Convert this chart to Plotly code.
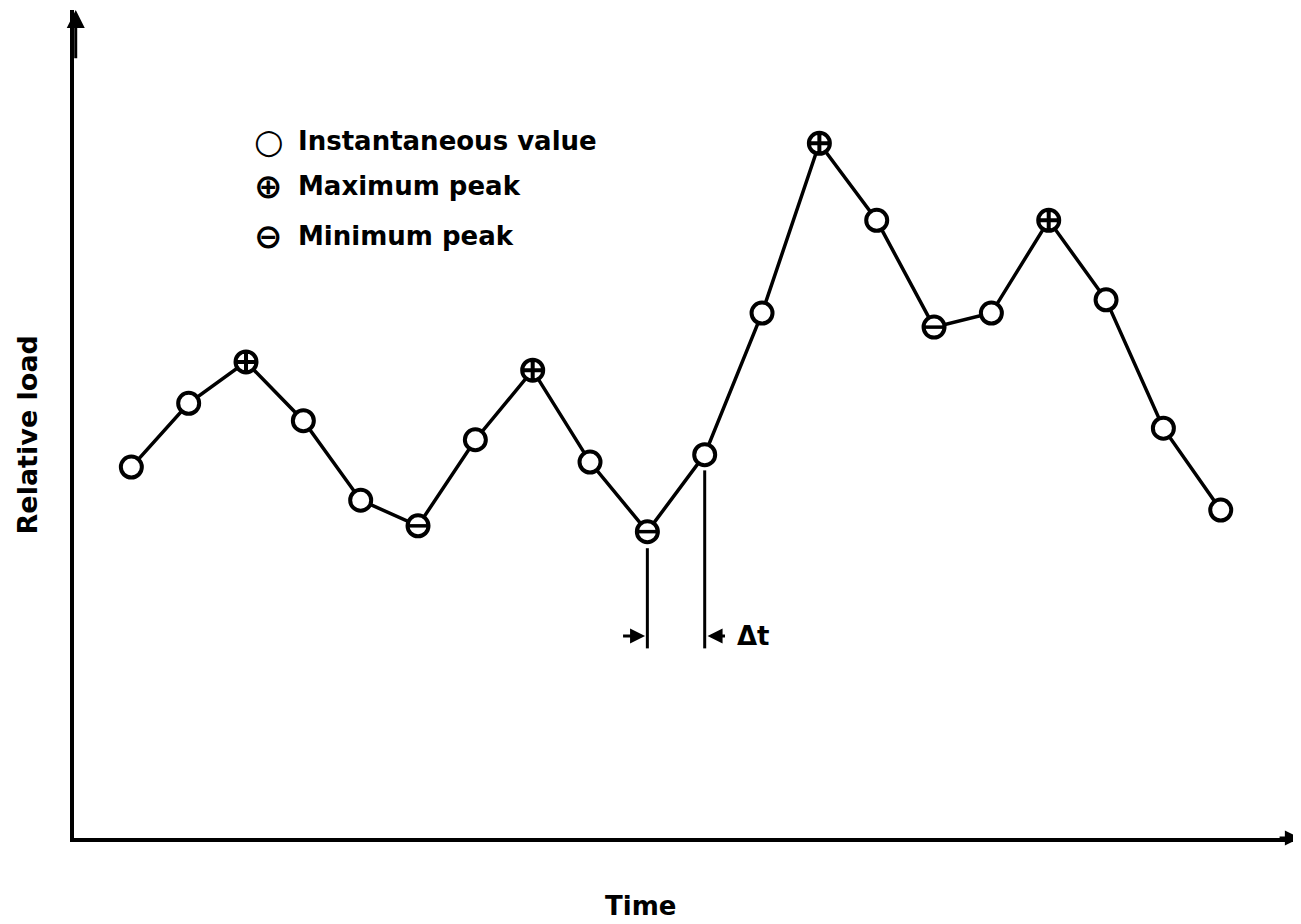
import plotly.graph_objects as go

# ---- data ----
time_idx = list(range(1, 21))
relative_load = [44.8, 52.5, 57.5, 50.4, 40.8, 37.7, 48.1, 56.5, 45.4, 37.0,
                 46.3, 63.4, 83.9, 74.6, 61.7, 63.4, 74.6, 65.0, 49.5, 39.6]
peak_type = ["i", "i", "max", "i", "i", "min", "i", "max", "i", "min",
             "i", "i", "max", "i", "min", "i", "max", "i", "i", "i"]
legend_labels = ["Instantaneous value", "Maximum peak", "Minimum peak"]
legend_glyphs = ["○", "⊕", "⊖"]

x_inst = [t for t, p in zip(time_idx, peak_type) if p == "i"]
y_inst = [v for v, p in zip(relative_load, peak_type) if p == "i"]
x_max = [t for t, p in zip(time_idx, peak_type) if p == "max"]
y_max = [v for v, p in zip(relative_load, peak_type) if p == "max"]
x_min = [t for t, p in zip(time_idx, peak_type) if p == "min"]
y_min = [v for v, p in zip(relative_load, peak_type) if p == "min"]

FONT = "DejaVu Sans"
fig = go.Figure()
fig.add_trace(go.Scatter(x=time_idx, y=relative_load, mode="lines",
                         line=dict(color="black", width=3.5), showlegend=False, hoverinfo="skip"))
mk = dict(size=21, color="white", line=dict(color="black", width=4))
fig.add_trace(go.Scatter(x=x_inst, y=y_inst, mode="markers", marker=dict(symbol="circle", **mk), showlegend=False))
fig.add_trace(go.Scatter(x=x_max, y=y_max, mode="markers", marker=dict(symbol="circle-cross", **mk), showlegend=False))
fig.add_trace(go.Scatter(x=x_min, y=y_min, mode="markers", marker=dict(symbol="circle", **mk), showlegend=False))
fig.add_trace(go.Scatter(x=x_min, y=y_min, mode="markers",
                         marker=dict(symbol="line-ew", size=17, color="black", line=dict(color="black", width=3.5)),
                         showlegend=False))

# Δt construction lines
t_a, t_b = time_idx[9], time_idx[10]
v_a, v_b = relative_load[9], relative_load[10]
base = 22.9
fig.add_shape(type="line", x0=t_a, x1=t_a, y0=v_a - 2.0, y1=base, line=dict(color="black", width=3))
fig.add_shape(type="line", x0=t_b, x1=t_b, y0=v_b - 1.9, y1=base, line=dict(color="black", width=3))
fig.add_annotation(x=t_a - 0.04, y=24.4, ax=t_a - 0.45, ay=24.4, axref="x", ayref="y",
                   showarrow=True, arrowhead=2, arrowsize=1, arrowwidth=3, arrowcolor="black", text="")
fig.add_annotation(x=t_b + 0.05, y=24.4, ax=t_b + 0.38, ay=24.4, axref="x", ayref="y",
                   showarrow=True, arrowhead=2, arrowsize=1, arrowwidth=3, arrowcolor="black", text="")
fig.add_annotation(x=t_b + 0.52, y=24.4, text="<b>Δt</b>", showarrow=False, xanchor="left",
                   font=dict(family=FONT, size=26, color="black"))

# axis arrows
fig.add_annotation(x=0.03, y=100, ax=0.03, ay=94, axref="x", ayref="y", showarrow=True,
                   arrowhead=2, arrowsize=1.2, arrowwidth=3, arrowcolor="black", text="")
fig.add_annotation(x=21.38, y=0, ax=21.0, ay=0, axref="x", ayref="y", showarrow=True,
                   arrowhead=2, arrowsize=1, arrowwidth=3, arrowcolor="black", text="")

# legend
leg_y = [84.2, 78.8, 72.7]
for g, lab, ly in zip(legend_glyphs, legend_labels, leg_y):
    fig.add_annotation(x=3.4, y=ly, text=f"<b>{g}</b>", showarrow=False, xanchor="center",
                       font=dict(family=FONT, size=34, color="black"))
    fig.add_annotation(x=3.88, y=ly, text=f"<b>{lab}</b>", showarrow=False, xanchor="left",
                       font=dict(family=FONT, size=26, color="black"))

# axis titles
fig.add_annotation(xref="paper", yref="paper", x=0.462, y=-0.1027, text="<b>Time</b>",
                   showarrow=False, font=dict(family=FONT, size=26, color="black"))
fig.add_annotation(xref="paper", yref="paper", x=-0.052, y=0.487, text="<b>Relative load</b>",
                   showarrow=False, textangle=-90, font=dict(family=FONT, size=27, color="black"))

fig.update_layout(
    width=1293, height=916,
    margin=dict(l=66, r=0, t=2, b=86),
    plot_bgcolor="white", paper_bgcolor="white",
    showlegend=False,
    xaxis=dict(range=[0, 21.4], showgrid=False, zeroline=False, showticklabels=False, ticks="",
               showline=True, linecolor="black", linewidth=3.5),
    yaxis=dict(range=[0, 100], showgrid=False, zeroline=False, showticklabels=False, ticks="",
               showline=True, linecolor="black", linewidth=3.5),
)
fig.write_html("out.html")
